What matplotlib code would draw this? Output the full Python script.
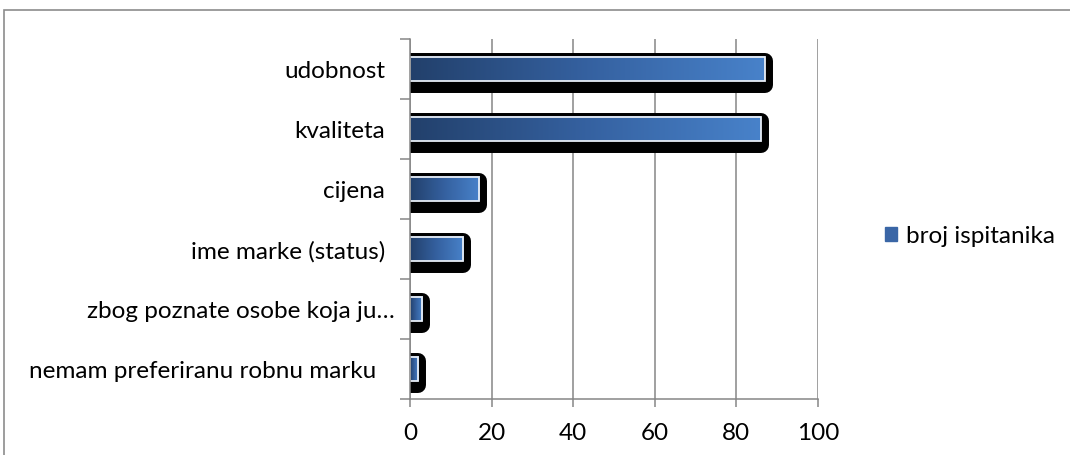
import numpy as np
import matplotlib
matplotlib.use("Agg")
import matplotlib.pyplot as plt
from matplotlib.patches import Rectangle, Patch
from matplotlib.colors import LinearSegmentedColormap
from matplotlib.transforms import ScaledTranslation

# Reasons for choosing a brand (number of respondents)
categories = [
    "udobnost",
    "kvaliteta",
    "cijena",
    "ime marke (status)",
    "zbog poznate osobe koja ju…",
    "nemam preferiranu robnu marku",
]
respondents = [87, 86, 17, 13, 3, 2]
series_name = "broj ispitanika"
x_ticks = [0, 20, 40, 60, 80, 100]

plt.rcParams["font.family"] = ["Lato", "DejaVu Sans"]

W, H, DPI = 1070, 456, 100
fig = plt.figure(figsize=(W / DPI, H / DPI), dpi=DPI)
ax = fig.add_axes([410 / W, 1 - 400 / H, 408 / W, 360 / H])

grid_col = "#868686"
bar_cmap = LinearSegmentedColormap.from_list("bar", ["#22406b", "#3561a0", "#4882ca"])
gradient = np.linspace(0, 1, 256).reshape(1, -1)
bar_h = 0.41
fs = 17.5

# black drop shadow: expanded, rounded, shifted down a little
shadow_shift = ScaledTranslation(0, -4 / DPI, fig.dpi_scale_trans)

for i, v in enumerate(respondents):
    ax.add_patch(Rectangle((0, i - bar_h / 2), v, bar_h, facecolor="black",
                           edgecolor="black", linewidth=11.5, joinstyle="round",
                           transform=ax.transData + shadow_shift, zorder=3))
    ax.imshow(gradient, cmap=bar_cmap, aspect="auto", interpolation="bicubic",
              extent=(0, v, i + bar_h / 2, i - bar_h / 2), zorder=4)
    ax.add_patch(Rectangle((0, i - bar_h / 2), v, bar_h, fill=False,
                           edgecolor="#e8eef6", linewidth=1.3, zorder=5))

ax.set_xlim(0, 100)
ax.set_ylim(len(categories) - 0.5, -0.5)

ax.set_xticks(x_ticks)
ax.set_xticklabels([str(t) for t in x_ticks])
ax.set_yticks(range(len(categories)))
ax.set_yticklabels(categories)
ax.set_yticks(np.arange(-0.5, len(categories)), minor=True)

ax.tick_params(axis="x", length=5.5, width=1.1, color=grid_col, pad=11, labelsize=fs)
ax.tick_params(axis="y", which="major", length=0, pad=18, labelsize=fs)
ax.tick_params(axis="y", which="minor", length=7, width=1.1, color=grid_col)

for lbl, dx in zip(ax.get_yticklabels(), [0, 0, 0, 0, 10, -9]):
    lbl.set_transform(lbl.get_transform() + ScaledTranslation(dx / DPI, 0, fig.dpi_scale_trans))

ax.grid(axis="x", color=grid_col, linewidth=1.1, zorder=1)
ax.set_axisbelow(True)
for side in ["top", "right"]:
    ax.spines[side].set_visible(False)
for side in ["left", "bottom"]:
    ax.spines[side].set_color(grid_col)
    ax.spines[side].set_linewidth(1.1)
    ax.spines[side].set_zorder(6)

# legend
fig.legend(handles=[Patch(facecolor="#3a66a6", edgecolor="#3a66a6", label=series_name)],
           loc="center left", bbox_to_anchor=(873 / W, 1 - 237 / H), frameon=False,
           handlelength=0.5, handleheight=0.5, handletextpad=0.35, borderpad=0,
           fontsize=fs)

# chart area border
fig.add_artist(Rectangle((4 / W, -0.1), 1.2, 1.1 - 11 / H, transform=fig.transFigure,
                         fill=False, edgecolor="#8c8c8c", linewidth=1.2))

fig.savefig("out.png", dpi=DPI)
